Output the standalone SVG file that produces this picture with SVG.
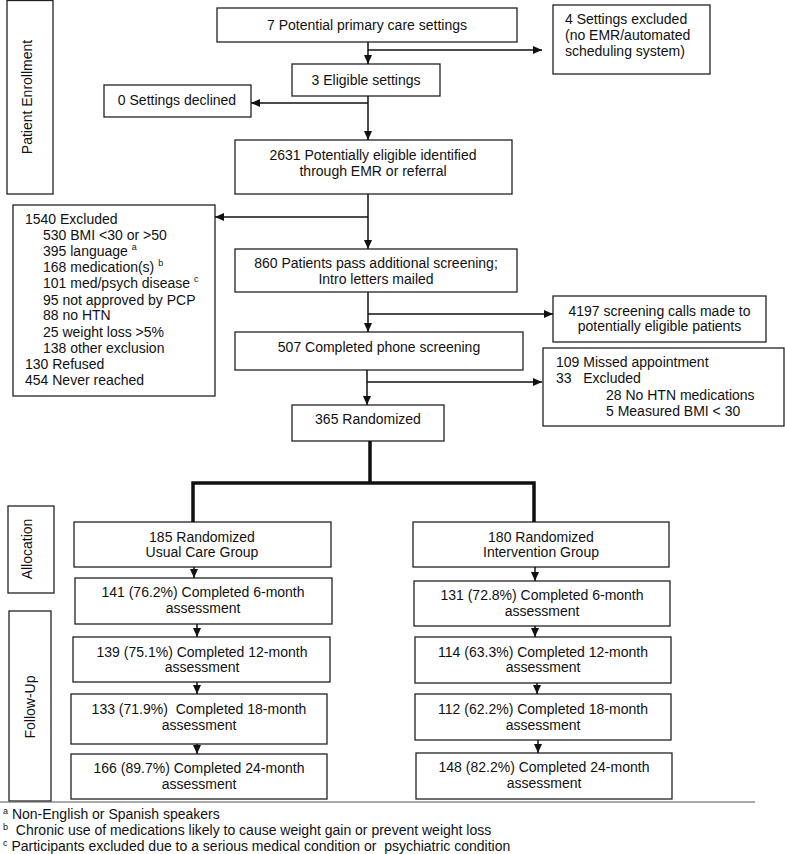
<svg xmlns="http://www.w3.org/2000/svg" width="785" height="854" viewBox="0 0 785 854">
<defs>
<style>
.box{fill:#fff;stroke:#222;stroke-width:1.3}
.t{font-family:"Liberation Sans",Arial,sans-serif;font-size:14px;fill:#111}
.c{text-anchor:middle}
.sup{font-size:9px}
.ln{fill:none;stroke:#111;stroke-width:1.5}
.thick{fill:none;stroke:#111;stroke-width:3.5}
</style>
<marker id="ah" markerUnits="userSpaceOnUse" markerWidth="10" markerHeight="8" refX="9" refY="4" orient="auto">
<path d="M0,0 L9,4 L0,8 Z" fill="#111"/>
</marker>
</defs>
<rect width="785" height="854" fill="#fff"/>

<g id="label-enrollment"><rect class="box" x="7" y="0.5" width="46" height="193.5"/><text class="t c" transform="translate(32,97) rotate(-90)">Patient Enrollment</text></g>
<g id="label-allocation"><rect class="box" x="8" y="506" width="46" height="87"/><text class="t c" transform="translate(32,549) rotate(-90)">Allocation</text></g>
<g id="label-followup"><rect class="box" x="9" y="611" width="42" height="190"/><text class="t c" transform="translate(35,707) rotate(-90)">Follow-Up</text></g>

<g id="n-potential"><rect class="box" x="217" y="8" width="300" height="34"/><text class="t c" x="367" y="30">7 Potential primary care settings</text></g>
<g id="n-excluded4"><rect class="box" x="553" y="5" width="157" height="69"/><text class="t" x="565" y="24">4 Settings excluded</text><text class="t" x="565" y="40">(no EMR/automated</text><text class="t" x="565" y="56">scheduling system)</text></g>
<g id="n-eligible"><rect class="box" x="292" y="64" width="148" height="32"/><text class="t c" x="366" y="85">3 Eligible settings</text></g>
<g id="n-declined"><rect class="box" x="104" y="85" width="147" height="32"/><text class="t c" x="177" y="105">0 Settings declined</text></g>
<g id="n-2631"><rect class="box" x="235" y="140" width="277" height="54"/><text class="t c" x="373" y="160">2631 Potentially eligible identified</text><text class="t c" x="373" y="176">through EMR or referral</text></g>
<g id="n-1540"><rect class="box" x="13" y="205" width="202" height="191"/>
<text class="t" x="25" y="224">1540 Excluded</text>
<text class="t" x="43" y="240">530 BMI &lt;30 or &gt;50</text>
<text class="t" x="43" y="256">395 language <tspan class="sup" dy="-6">a</tspan></text>
<text class="t" x="43" y="272">168 medication(s) <tspan class="sup" dy="-6">b</tspan></text>
<text class="t" x="43" y="288">101 med/psych disease <tspan class="sup" dy="-6">c</tspan></text>
<text class="t" x="43" y="305">95 not approved by PCP</text>
<text class="t" x="43" y="320">88 no HTN</text>
<text class="t" x="43" y="337">25 weight loss &gt;5%</text>
<text class="t" x="43" y="353">138 other exclusion</text>
<text class="t" x="25" y="369">130 Refused</text>
<text class="t" x="25" y="385">454 Never reached</text>
</g>
<g id="n-860"><rect class="box" x="235" y="249" width="282" height="43"/><text class="t c" x="376" y="268">860 Patients pass additional screening;</text><text class="t c" x="376" y="284">Intro letters mailed</text></g>
<g id="n-4197"><rect class="box" x="553" y="296" width="213" height="46"/><text class="t c" x="659.5" y="316">4197 screening calls made to</text><text class="t c" x="659.5" y="331">potentially eligible patients</text></g>
<g id="n-507"><rect class="box" x="235" y="332" width="288" height="38"/><text class="t c" x="379" y="352">507 Completed phone screening</text></g>
<g id="n-109"><rect class="box" x="543" y="348" width="241" height="78"/>
<text class="t" x="556" y="367">109 Missed appointment</text>
<text class="t" x="556" y="383" xml:space="preserve">33   Excluded</text>
<text class="t" x="606" y="400">28 No HTN medications</text>
<text class="t" x="606" y="416">5 Measured BMI &lt; 30</text>
</g>
<g id="n-365"><rect class="box" x="292" y="405" width="152" height="36"/><text class="t c" x="368" y="424">365 Randomized</text></g>

<g id="n-usual"><rect class="box" x="74" y="522" width="257" height="45"/><text class="t c" x="202" y="542">185 Randomized</text><text class="t c" x="202" y="557">Usual Care Group</text></g>
<g id="n-u6"><rect class="box" x="75" y="578" width="257" height="46"/><text class="t c" x="203" y="597">141 (76.2%) Completed 6-month</text><text class="t c" x="203" y="613">assessment</text></g>
<g id="n-u12"><rect class="box" x="73" y="637" width="257" height="45"/><text class="t c" x="202" y="657">139 (75.1%) Completed 12-month</text><text class="t c" x="202" y="672">assessment</text></g>
<g id="n-u18"><rect class="box" x="71" y="694" width="256" height="50"/><text class="t c" x="199" y="714" xml:space="preserve">133 (71.9%)  Completed 18-month</text><text class="t c" x="199" y="730">assessment</text></g>
<g id="n-u24"><rect class="box" x="71" y="754" width="256" height="45"/><text class="t c" x="199" y="773">166 (89.7%) Completed 24-month</text><text class="t c" x="199" y="789">assessment</text></g>

<g id="n-interv"><rect class="box" x="413" y="522" width="256" height="45"/><text class="t c" x="541" y="542">180 Randomized</text><text class="t c" x="541" y="557">Intervention Group</text></g>
<g id="n-i6"><rect class="box" x="414" y="581" width="256" height="45"/><text class="t c" x="542" y="600">131 (72.8%) Completed 6-month</text><text class="t c" x="542" y="616">assessment</text></g>
<g id="n-i12"><rect class="box" x="415" y="637" width="256" height="46"/><text class="t c" x="543" y="657">114 (63.3%) Completed 12-month</text><text class="t c" x="543" y="672">assessment</text></g>
<g id="n-i18"><rect class="box" x="415" y="694" width="256" height="46"/><text class="t c" x="543" y="714">112 (62.2%) Completed 18-month</text><text class="t c" x="543" y="730">assessment</text></g>
<g id="n-i24"><rect class="box" x="416" y="753" width="256" height="46"/><text class="t c" x="544" y="772">148 (82.2%) Completed 24-month</text><text class="t c" x="544" y="788">assessment</text></g>

<g id="connectors">
<path class="ln" stroke-width="2" d="M368,42 V64" marker-end="url(#ah)"/>
<path class="ln" d="M368,50 H542" marker-end="url(#ah)"/>
<path class="ln" d="M368,96 V140" marker-end="url(#ah)"/>
<path class="ln" d="M368,103 H251" marker-end="url(#ah)"/>
<path class="ln" d="M368,194 V249" marker-end="url(#ah)"/>
<path class="ln" d="M368,217 H215" marker-end="url(#ah)"/>
<path class="ln" d="M368,292 V332" marker-end="url(#ah)"/>
<path class="ln" d="M368,314 H553" marker-end="url(#ah)"/>
<path class="ln" d="M367,370 V405" marker-end="url(#ah)"/>
<path class="ln" d="M367,382 H542" marker-end="url(#ah)"/>
<path class="thick" d="M370,441 V483 M193,522 V483 H534 V522"/>
<path class="ln" d="M194,567 V578" marker-end="url(#ah)"/>
<path class="ln" d="M197,624 V637" marker-end="url(#ah)"/>
<path class="ln" d="M197,682 V694" marker-end="url(#ah)"/>
<path class="ln" d="M197,744 V754" marker-end="url(#ah)"/>
<path class="ln" d="M535,567 V581" marker-end="url(#ah)"/>
<path class="ln" d="M535,626 V637" marker-end="url(#ah)"/>
<path class="ln" d="M537,683 V694" marker-end="url(#ah)"/>
<path class="ln" d="M538,740 V753" marker-end="url(#ah)"/>
</g>

<g id="footnotes">
<line x1="0" y1="802" x2="755" y2="802" stroke="#555" stroke-width="1"/>
<text class="t" x="3" y="819"><tspan class="sup" dy="-5">a</tspan><tspan dy="5"> Non-English or Spanish speakers</tspan></text>
<text class="t" x="3" y="835" xml:space="preserve"><tspan class="sup" dy="-5">b</tspan><tspan dy="5">  Chronic use of medications likely to cause weight gain or prevent weight loss</tspan></text>
<text class="t" x="3" y="851" xml:space="preserve"><tspan class="sup" dy="-5">c</tspan><tspan dy="5"> Participants excluded due to a serious medical condition or  psychiatric condition</tspan></text>
</g>
</svg>
